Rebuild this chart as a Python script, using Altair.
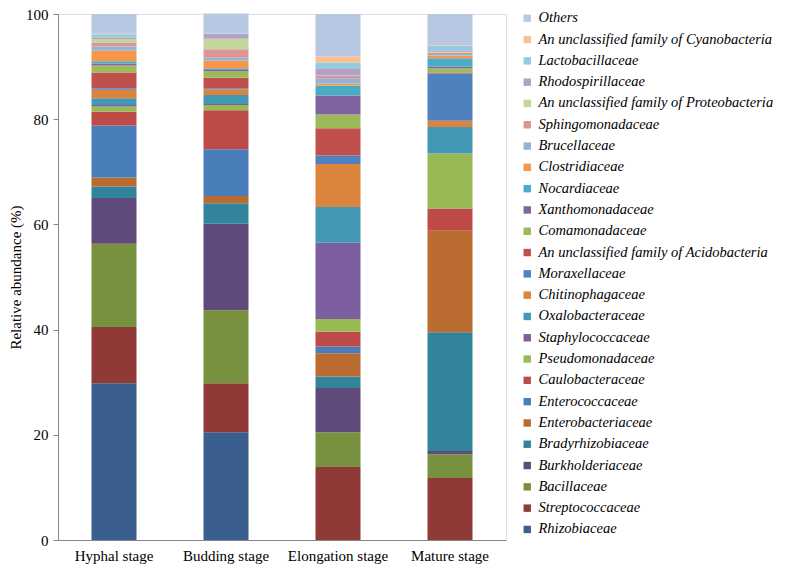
import altair as alt
import pandas as pd

stages = ["Hyphal stage", "Budding stage", "Elongation stage", "Mature stage"]

# stacking order, bottom to top
families = [
    "Rhizobiaceae", "Streptococcaceae", "Bacillaceae", "Burkholderiaceae",
    "Bradyrhizobiaceae", "Enterobacteriaceae", "Enterococcaceae", "Caulobacteraceae",
    "Pseudomonadaceae", "Staphylococcaceae", "Oxalobacteraceae", "Chitinophagaceae",
    "Moraxellaceae", "An unclassified family of Acidobacteria", "Comamonadaceae",
    "Xanthomonadaceae", "Nocardiaceae", "Clostridiaceae", "Brucellaceae",
    "Sphingomonadaceae", "An unclassified family of Proteobacteria", "Rhodospirillaceae",
    "Lactobacillaceae", "An unclassified family of Cyanobacteria", "Others",
]

colors = [
    "#3A5F8E", "#8F3A37", "#77913F", "#604A7B",
    "#32849B", "#BA6B30", "#4A7EBB", "#BE4B48",
    "#98B954", "#7D5FA0", "#4399B3", "#DB843D",
    "#4F81BD", "#C0504D", "#9BBB59",
    "#8064A2", "#4BACC6", "#F79646", "#95B3D7",
    "#D99694", "#C3D69B", "#B3A2C7",
    "#93CDDD", "#FAC090", "#B9C8E2",
]

hyphal = [29.8, 10.7, 15.8, 8.7, 2.2, 1.7, 9.9, 2.6, 1.0, 0.3, 1.3, 1.6, 0.3, 3.0, 1.3,
          0.4, 0.4, 2.0, 0.8, 0.7, 0.75, 0.3, 0.6, 0.1, 3.75]
budding = [20.5, 9.3, 13.9, 16.4, 3.9, 1.4, 8.9, 7.4, 1.0, 0.2, 1.7, 1.1, 0.2, 2.0, 1.2,
           0.4, 0.2, 1.4, 0.6, 1.6, 2.0, 0.9, 0.1, 0.0, 3.8]
elongation = [0.0, 13.9, 6.6, 8.4, 2.2, 4.4, 1.3, 2.8, 2.4, 14.5, 6.8, 8.2, 1.6, 5.2, 2.6,
              3.6, 1.9, 0.4, 1.0, 0.4, 0.1, 1.4, 1.1, 1.1, 8.1]
mature = [0.0, 11.8, 4.5, 0.6, 22.6, 19.3, 0.0, 4.2, 10.5, 0.0, 5.0, 1.2, 9.0, 0.2, 0.8,
          0.3, 1.6, 0.5, 0.3, 0.3, 0.1, 0.3, 0.9, 0.1, 5.9]

series = [hyphal, budding, elongation, mature]

rows = []
for s, vals in zip(stages, series):
    for i, (f, v) in enumerate(zip(families, vals)):
        rows.append({"stage": s, "family": f, "value": v, "idx": i})
df = pd.DataFrame(rows)

legend_order = families[::-1]
legend_colors = colors[::-1]

FONT = "Liberation Serif"

chart = alt.Chart(df).mark_bar(size=45).encode(
    x=alt.X("stage:N", sort=stages, title=None,
            scale=alt.Scale(paddingInner=0.6, paddingOuter=0.3),
            axis=alt.Axis(labelAngle=0, labelFontSize=15, labelColor="#000000",
                          labelFont=FONT,
                          ticks=False, domainColor="#868686", labelPadding=8)),
    y=alt.Y("value:Q", stack="zero", title="Relative abundance (%)",
            scale=alt.Scale(domain=[0, 100], nice=False),
            axis=alt.Axis(values=[0, 20, 40, 60, 80, 100], grid=False, labelFontSize=15,
                          labelFont=FONT, titleFont=FONT,
                          labelColor="#000000", tickColor="#868686",
                          tickSize=5, domainColor="#868686", labelPadding=5,
                          titleFontSize=15, titleFontWeight="normal",
                          titleColor="#000000", titlePadding=2)),
    color=alt.Color("family:N", sort=legend_order,
                    scale=alt.Scale(domain=legend_order, range=legend_colors),
                    legend=alt.Legend(title=None, orient="none", legendX=462, legendY=-3,
                                      labelFont=FONT,
                                      labelFontSize=14.5, labelFontStyle="italic",
                                      labelColor="#000000", symbolType="square", symbolSize=55,
                                      symbolStrokeWidth=0, rowPadding=6.3, labelOffset=4,
                                      labelLimit=400, padding=0)),
    order=alt.Order("idx:Q", sort="ascending"),
).properties(
    width=448, height=526,
    autosize=alt.AutoSizeParams(type="none"),
    padding={"left": 50, "top": 6, "right": 276, "bottom": 28},
).configure_view(stroke=None).configure(
    font=FONT
)

chart.save("out.html", embed_options={"renderer": "svg", "actions": False})
